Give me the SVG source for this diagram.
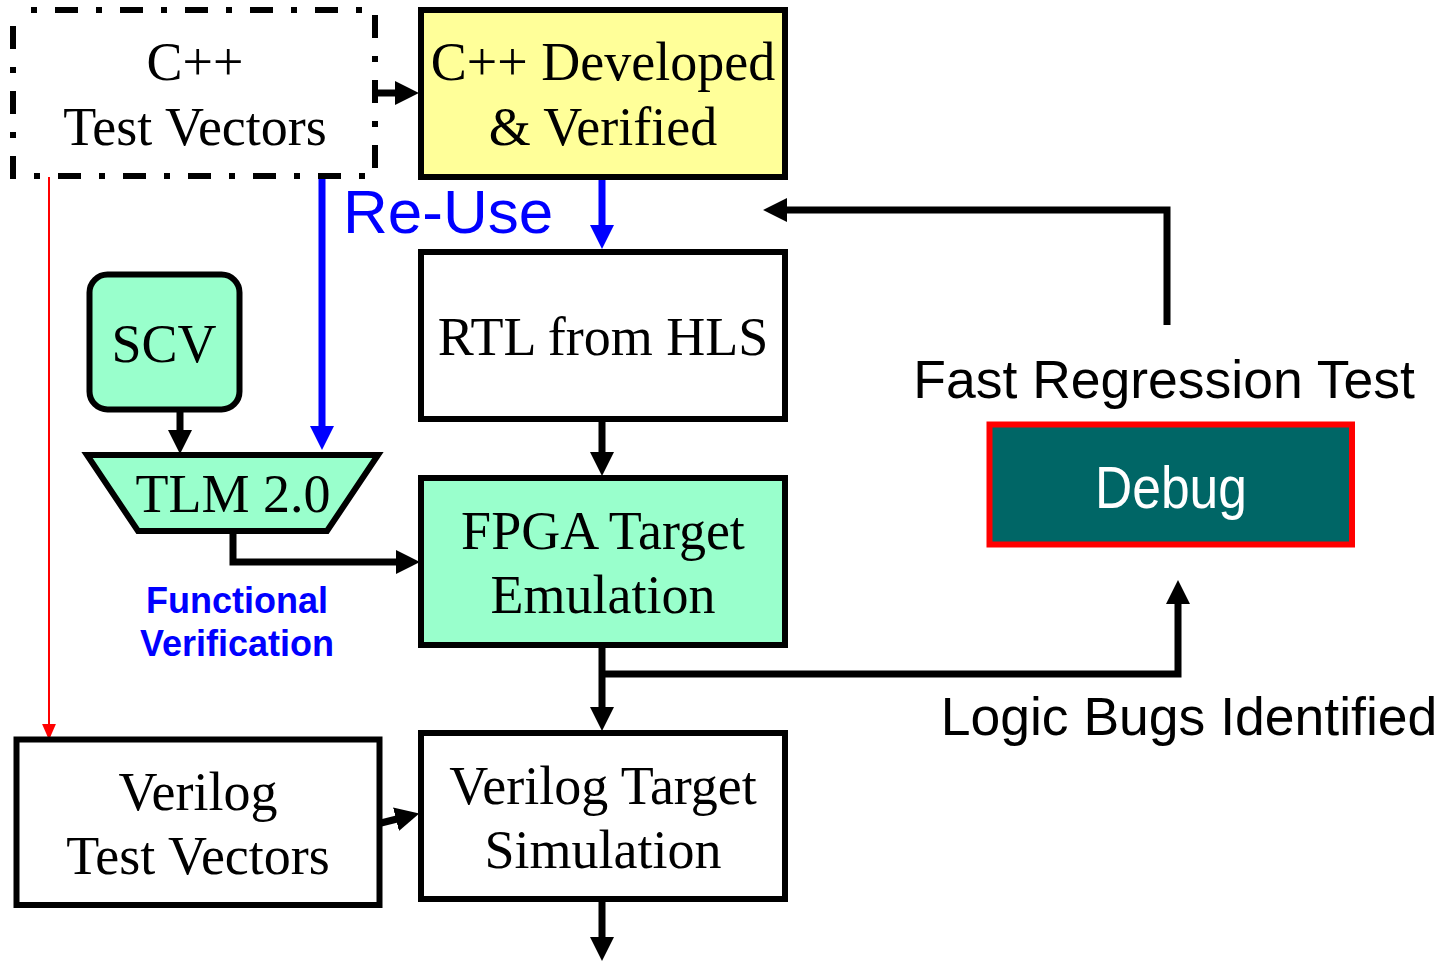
<svg xmlns="http://www.w3.org/2000/svg" width="1442" height="962" viewBox="0 0 1442 962">
  <style>
    .box { stroke: #000; stroke-width: 6; }
    .serif { font-family: "Liberation Serif", "Times New Roman", serif; font-size: 54px; fill: #000; text-anchor: middle; }
    .sans { font-family: "Liberation Sans", Arial, sans-serif; font-size: 53.5px; fill: #000; text-anchor: middle; }
    .conn { fill: none; stroke: #000; stroke-width: 7; stroke-linejoin: miter; }
    .blue { fill: none; stroke: #0000FF; stroke-width: 7; }
    .red { fill: none; stroke: #FF0000; stroke-width: 2; }
  </style>
  <defs>
    <marker id="ah" markerUnits="userSpaceOnUse" markerWidth="24" markerHeight="24" viewBox="0 0 23 23" refX="1" refY="11.5" orient="auto">
      <path d="M0,0 L23,11.5 L0,23 z" fill="#000"/>
    </marker>
    <marker id="ahBlue" markerUnits="userSpaceOnUse" markerWidth="24" markerHeight="24" viewBox="0 0 23 23" refX="1" refY="11.5" orient="auto">
      <path d="M0,0 L23,11.5 L0,23 z" fill="#0000FF"/>
    </marker>
    <marker id="ahRed" markerUnits="userSpaceOnUse" markerWidth="16" markerHeight="14" viewBox="0 0 15 13" refX="1" refY="6.5" orient="auto">
      <path d="M0,0 L15,6.5 L0,13 z" fill="#FF0000"/>
    </marker>
  </defs>

  <rect width="1442" height="962" fill="#FFFFFF"/>

  <!-- connectors -->
  <g id="connectors">
    <line class="red" x1="49" y1="177" x2="49" y2="725" marker-end="url(#ahRed)"/>
    <line class="conn" x1="378" y1="93" x2="396" y2="93" marker-end="url(#ah)"/>
    <line class="blue" x1="602" y1="177" x2="602" y2="226" marker-end="url(#ahBlue)"/>
    <line class="blue" x1="322" y1="176" x2="322" y2="427" marker-end="url(#ahBlue)"/>
    <line class="conn" x1="180" y1="410" x2="180" y2="431" marker-end="url(#ah)"/>
    <polyline class="conn" points="233,532 233,562 397,562" marker-end="url(#ah)"/>
    <line class="conn" x1="602" y1="419" x2="602" y2="453" marker-end="url(#ah)"/>
    <line class="conn" x1="602" y1="645" x2="602" y2="708" marker-end="url(#ah)"/>
    <polyline class="conn" points="602,674 1178,674 1178,603" marker-end="url(#ah)"/>
    <polyline class="conn" points="1167,325 1167,210 786,210" marker-end="url(#ah)"/>
    <line class="conn" x1="381" y1="823" x2="397" y2="819" marker-end="url(#ah)"/>
    <line class="conn" x1="602" y1="899" x2="602" y2="938" marker-end="url(#ah)"/>
  </g>

  <!-- C++ test vectors (dash-dot outline) -->
  <g id="cpp-test-vectors">
    <rect x="13" y="10" width="362" height="166" fill="#FFFFFF" stroke="#000" stroke-width="6" stroke-dasharray="23 18 6 18" stroke-dashoffset="23"/>
    <text class="serif" x="195" y="80">C++</text>
    <text class="serif" x="195" y="145">Test Vectors</text>
  </g>

  <g id="cpp-developed">
    <rect class="box" x="421" y="10" width="364" height="167" fill="#FFFF99"/>
    <text class="serif" x="603" y="80">C++ Developed</text>
    <text class="serif" x="603" y="145">&amp; Verified</text>
  </g>

  <text x="343" y="233" font-family="Liberation Sans, Arial, sans-serif" font-size="62" fill="#0000FF">Re-Use</text>

  <g id="rtl-from-hls">
    <rect class="box" x="421" y="252" width="364" height="167" fill="#FFFFFF"/>
    <text class="serif" x="603" y="355">RTL from HLS</text>
  </g>

  <g id="scv">
    <rect class="box" x="89.5" y="274.5" width="150" height="135" rx="18" ry="18" fill="#99FFCC"/>
    <text class="serif" x="164" y="362">SCV</text>
  </g>

  <g id="tlm">
    <polygon class="box" points="87,455 378,455 327,531 138,531" fill="#99FFCC"/>
    <text class="serif" x="233" y="512">TLM 2.0</text>
  </g>

  <g id="functional-verification">
    <text x="237" y="613" font-family="Liberation Sans, Arial, sans-serif" font-size="36" font-weight="bold" fill="#0000FF" text-anchor="middle">Functional</text>
    <text x="237" y="656" font-family="Liberation Sans, Arial, sans-serif" font-size="36" font-weight="bold" fill="#0000FF" text-anchor="middle">Verification</text>
  </g>

  <g id="fpga-emulation">
    <rect class="box" x="421" y="478" width="364" height="167" fill="#99FFCC"/>
    <text class="serif" x="603" y="549">FPGA Target</text>
    <text class="serif" x="603" y="613">Emulation</text>
  </g>

  <g id="verilog-test-vectors">
    <rect class="box" x="16.5" y="739.5" width="363" height="165.5" fill="#FFFFFF"/>
    <text class="serif" x="198" y="810">Verilog</text>
    <text class="serif" x="198" y="874">Test Vectors</text>
  </g>

  <g id="verilog-simulation">
    <rect class="box" x="421" y="733" width="364" height="166" fill="#FFFFFF"/>
    <text class="serif" x="603" y="804">Verilog Target</text>
    <text class="serif" x="603" y="868">Simulation</text>
  </g>

  <text class="sans" x="1164" y="398">Fast Regression Test</text>

  <g id="debug">
    <rect x="989.5" y="424.5" width="362.5" height="120" fill="#006666" stroke="#FF0000" stroke-width="6"/>
    <text x="1171" y="508" font-family="Liberation Sans, Arial, sans-serif" font-size="60" fill="#FFFFFF" text-anchor="middle" textLength="152" lengthAdjust="spacingAndGlyphs">Debug</text>
  </g>

  <text class="sans" x="1189" y="735">Logic Bugs Identified</text>
</svg>
